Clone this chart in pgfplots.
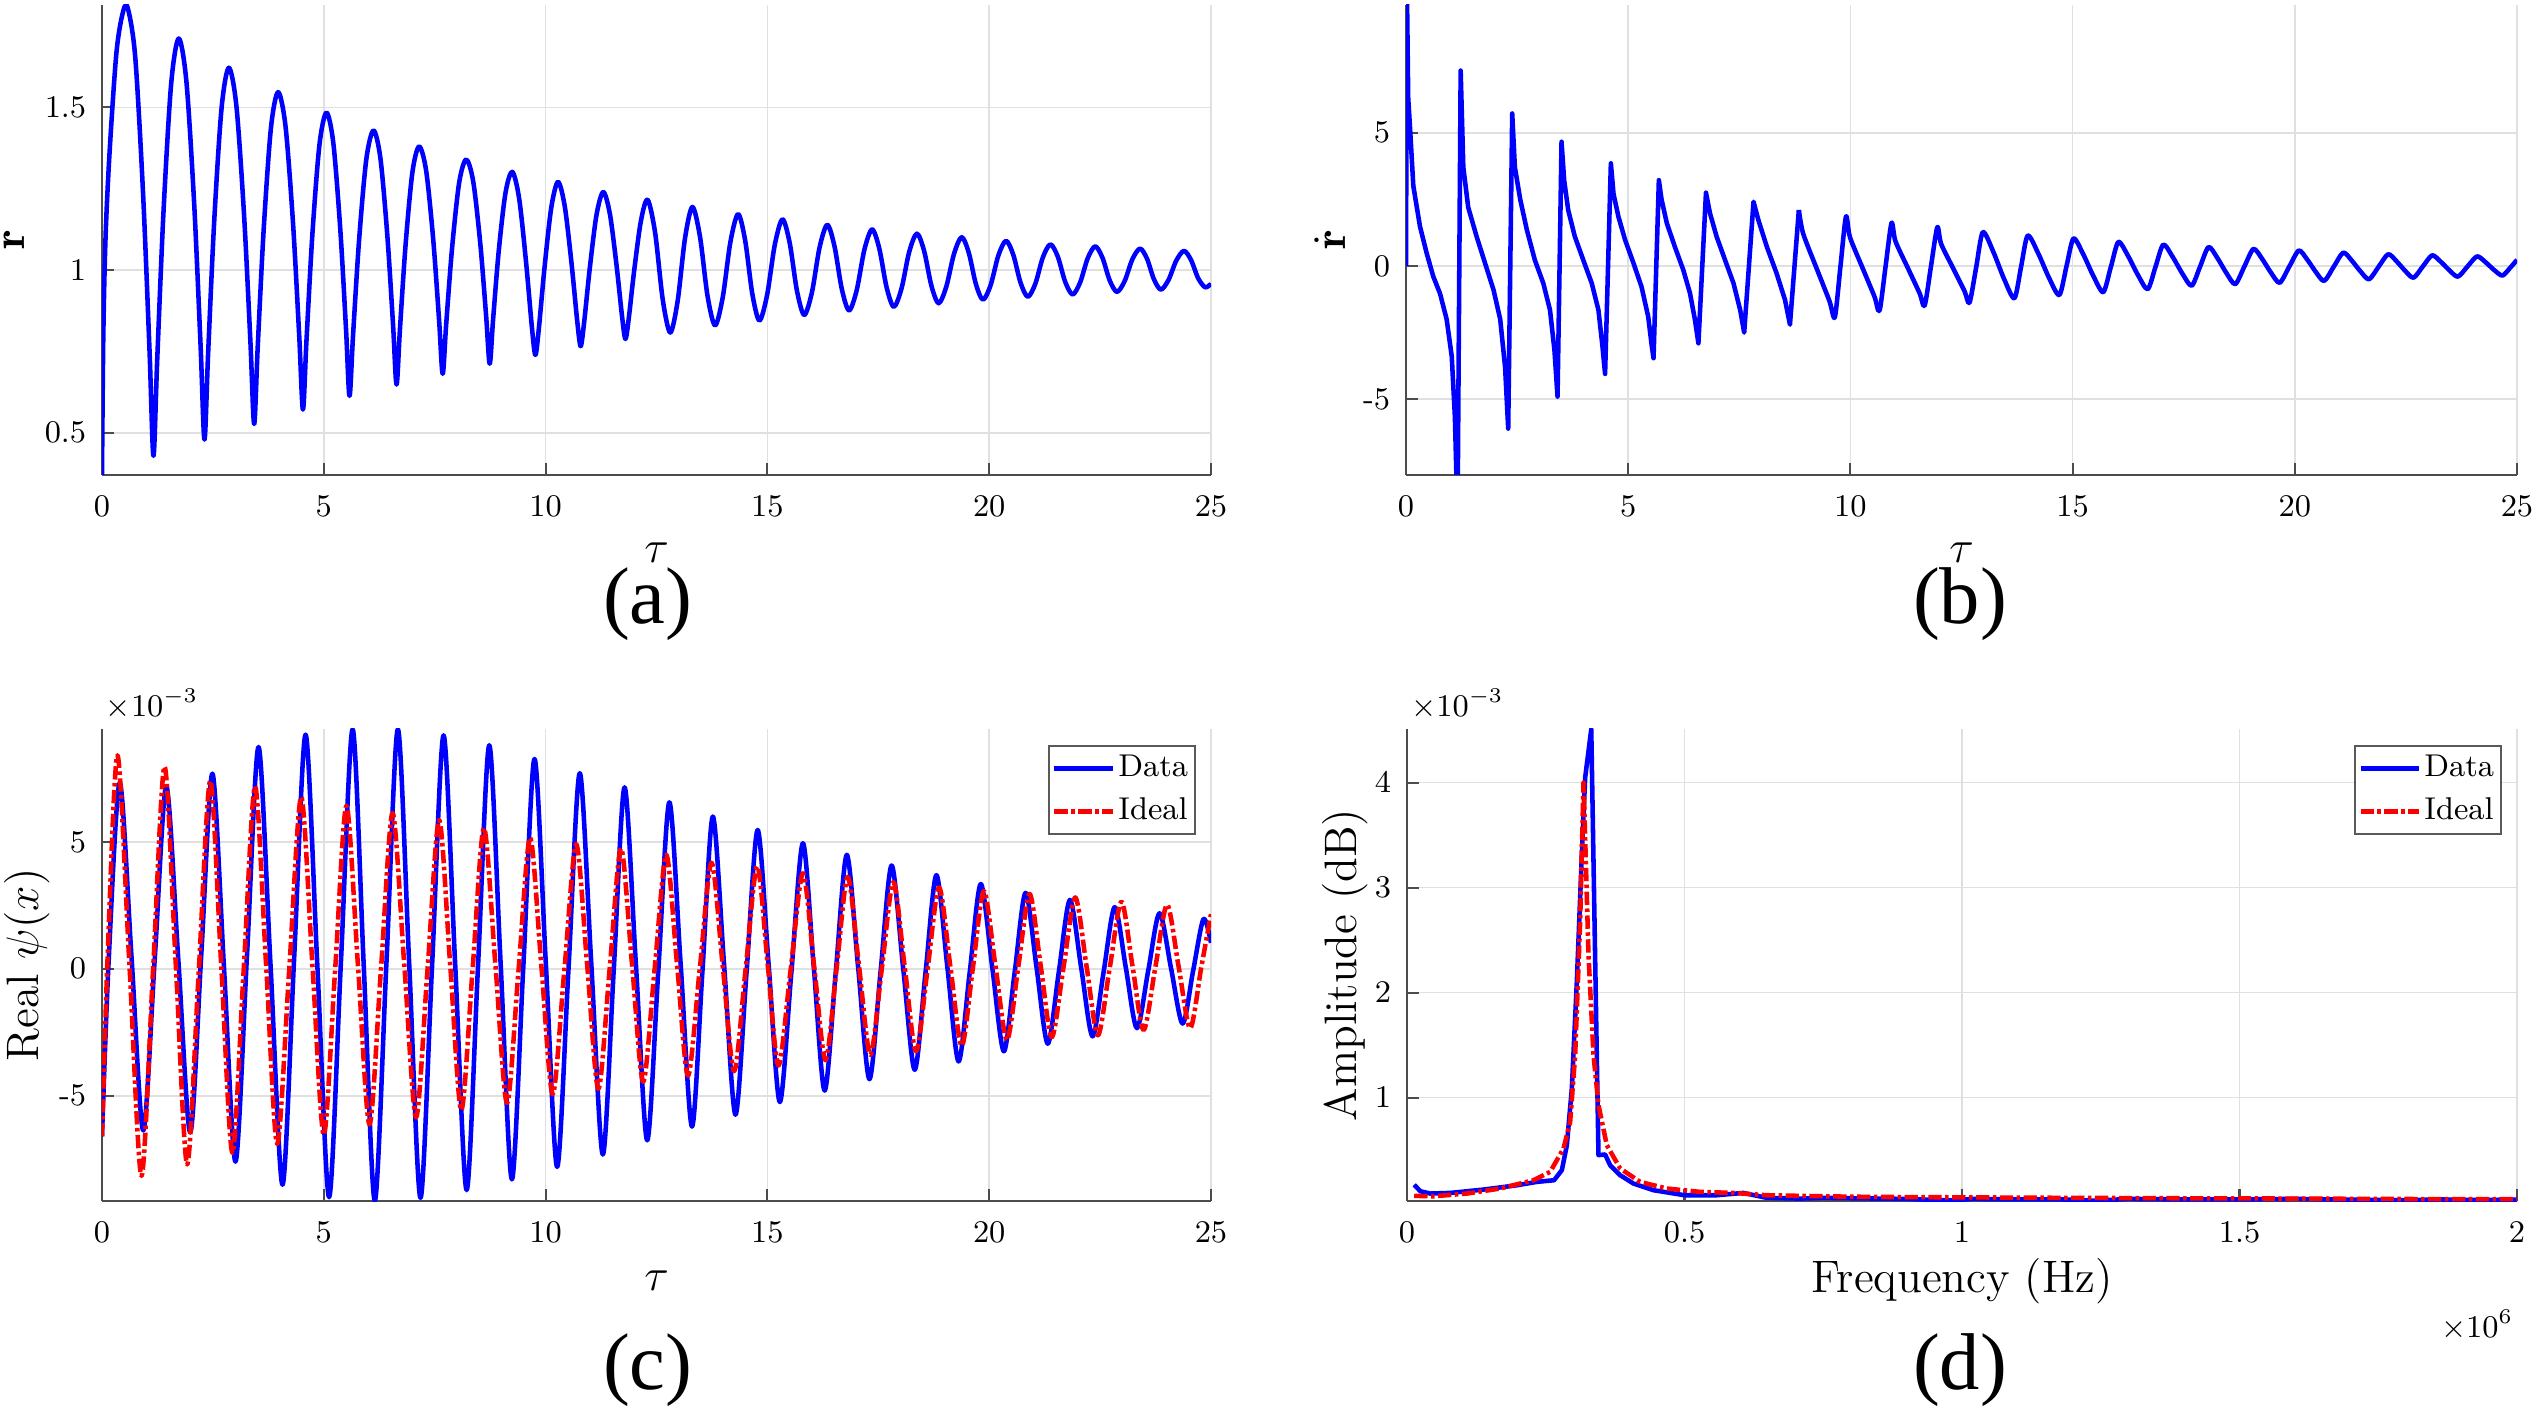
\RequirePackage{fix-cm}
\documentclass[border=0pt]{standalone}
\usepackage{fontspec}
\usepackage{pgfplots}
\pgfplotsset{compat=1.18}
\newfontfamily\tnr{Liberation Serif}

\pgfplotsset{
  panel/.style={
    scale only axis, anchor=south west,
    axis lines=left,
    axis line style={-, black!70, line width=0.6pt},
    tick style={black!70, line width=0.6pt},
    tick align=inside, major tick length=3.3pt,
    grid=major, major grid style={black!12, line width=0.5pt},
    tick label style={font=\fontsize{9}{10}\selectfont},
    xticklabel style={yshift=-2.6pt},
    yticklabel style={xshift=-1pt},
    every axis plot/.append style={line width=1.3pt, line join=round},
    legend cell align=left,
    legend image code/.code={\draw[#1, line width=1.3pt] (0pt,0pt) -- (16.6pt,0pt);},
    legend style={font=\fontsize{9}{10}\selectfont, draw=black!65, line width=0.5pt,
      at={(1,1)}, anchor=north east, xshift=-4.3pt, yshift=-4.6pt,
      inner xsep=1pt, inner ysep=1.6pt, row sep=2.6pt, nodes={inner sep=1pt}},
  },
  xlab/.style={every axis x label/.style={at={(axis description cs:0.5,#1)},
      anchor=center, inner sep=0.5pt, font=\fontsize{13}{15}\selectfont}},
  ylab/.style={every axis y label/.style={at={(axis description cs:#1,0.5)},
      anchor=center, rotate=90, inner sep=0pt, font=\fontsize{13}{15}\selectfont}},
  taux/.style={xmin=0, xmax=25, xtick={0,5,...,25}, xlabel={$\tau$}},
  ideal/.style={red, line cap=butt, dash pattern=on 3.8pt off 1pt on 1pt off 1pt},
}

\begin{document}
\begin{tikzpicture}
\path[use as bounding box] (0,0) rectangle (724.29pt,402.86pt);

% (a) r(tau)
\begin{axis}[panel, taux, name=a, at={(29.14pt,267.14pt)},
  width=316.86pt, height=134.29pt,
  ymin=0.37, ymax=1.815, ytick={0.5,1,1.5},
  xlab=-0.166, ylab=-0.0794,
  ylabel={$\mathbf{r}$}]
\addplot[blue, smooth, tension=0.5] coordinates {
(0,0.37)(0.03,0.80)(0.08,1.10)(0.17,1.36)(0.32,1.66)(0.45,1.78)(0.57,1.81)
(0.747,1.659)(0.924,1.241)(1.072,0.751)(1.16,0.429)(1.246,0.728)(1.388,1.183)(1.559,1.572)(1.73,1.712)
(1.904,1.578)(2.078,1.204)(2.223,0.766)(2.31,0.479)(2.393,0.745)(2.53,1.151)(2.695,1.497)(2.86,1.622)
(3.031,1.503)(3.202,1.171)(3.345,0.782)(3.43,0.527)(3.511,0.765)(3.646,1.127)(3.808,1.436)(3.97,1.547)
(4.138,1.441)(4.306,1.145)(4.446,0.798)(4.53,0.571)(4.61,0.784)(4.742,1.108)(4.901,1.384)(5.06,1.484)
(5.216,1.389)(5.372,1.125)(5.502,0.816)(5.58,0.613)(5.661,0.803)(5.796,1.093)(5.958,1.340)(6.12,1.429)
(6.276,1.344)(6.432,1.107)(6.562,0.830)(6.64,0.648)(6.717,0.819)(6.844,1.078)(6.997,1.300)(7.15,1.380)
(7.309,1.304)(7.468,1.092)(7.60,0.844)(7.68,0.681)(7.76,0.835)(7.892,1.068)(8.051,1.268)(8.21,1.340)
(8.369,1.272)(8.528,1.081)(8.66,0.858)(8.74,0.712)(8.817,0.849)(8.944,1.059)(9.097,1.238)(9.25,1.302)
(9.406,1.218)(9.562,1.021)(9.692,0.823)(9.77,0.739)(9.847,0.819)(9.974,1.005)(10.127,1.191)(10.28,1.271)
(10.433,1.195)(10.586,1.019)(10.714,0.842)(10.79,0.766)(10.867,0.837)(10.994,1.003)(11.147,1.169)(11.30,1.240)
(11.45,1.172)(11.60,1.014)(11.725,0.856)(11.80,0.788)(11.875,0.852)(12.00,1.002)(12.15,1.152)(12.30,1.216)
(12.47,1.114)(12.64,0.910)(12.81,0.808)(12.977,0.905)(13.143,1.098)(13.31,1.194)
(13.48,1.103)(13.65,0.921)(13.82,0.830)(13.993,0.916)(14.167,1.087)(14.34,1.172)
(14.50,1.090)(14.66,0.927)(14.82,0.845)(14.993,0.923)(15.167,1.078)(15.34,1.156)
(15.503,1.083)(15.667,0.936)(15.83,0.862)(16.003,0.931)(16.177,1.070)(16.35,1.139)
(16.513,1.073)(16.677,0.942)(16.84,0.876)(17.013,0.938)(17.187,1.063)(17.36,1.125)
(17.523,1.066)(17.687,0.947)(17.85,0.887)(18.023,0.943)(18.197,1.056)(18.37,1.112)
(18.533,1.059)(18.697,0.952)(18.86,0.898)(19.033,0.949)(19.207,1.050)(19.38,1.101)
(19.54,1.053)(19.70,0.957)(19.86,0.909)(20.033,0.954)(20.207,1.045)(20.38,1.090)
(20.543,1.047)(20.707,0.961)(20.87,0.918)(21.04,0.958)(21.21,1.039)(21.38,1.079)
(21.547,1.041)(21.713,0.964)(21.88,0.925)(22.05,0.962)(22.22,1.036)(22.39,1.073)
(22.553,1.038)(22.717,0.968)(22.88,0.933)(23.053,0.966)(23.227,1.033)(23.40,1.066)
(23.557,1.035)(23.713,0.972)(23.87,0.940)(24.043,0.970)(24.217,1.029)(24.39,1.059)
(24.55,1.031)(24.71,0.975)(24.87,0.947)(25.0,0.958)
};
\end{axis}

% (b) r dot
\begin{axis}[panel, taux, name=b, at={(401.71pt,267.14pt)},
  width=317.43pt, height=134.29pt,
  ymin=-7.84, ymax=9.79, ytick={-5,0,5}, yticklabels={\mbox{-}5,0,5},
  xlab=-0.166, ylab=-0.0684,
  ylabel={$\dot{\mathbf{r}}$}]
\addplot[blue] coordinates {
(0,0)(0.02,10.5)(0.05,6.3)(0.09,5.2)(0.165,3.0)(0.315,1.48)(0.465,0.48)(0.615,-0.40)(0.765,-1.03)
(0.915,-2.00)(1.03,-3.40)(1.10,-5.65)(1.16,-9.50)(1.23,7.33)
(1.29,3.70)(1.40,2.20)(1.59,1.10)(1.78,0.10)(1.97,-0.90)(2.12,-2.00)(2.23,-3.80)(2.30,-6.10)(2.39,5.72)
(2.45,3.70)(2.57,2.50)(2.72,1.35)(2.90,0.22)(3.09,-0.65)(3.24,-1.65)(3.34,-3.15)(3.41,-4.90)(3.50,4.66)
(3.56,3.20)(3.65,2.10)(3.80,1.10)(3.99,0.22)(4.18,-0.65)(4.33,-1.65)(4.42,-3.00)(4.48,-4.05)(4.61,3.85)
(4.67,2.70)(4.78,1.85)(4.93,0.98)(5.12,0.10)(5.30,-0.78)(5.45,-1.90)(5.53,-3.00)(5.57,-3.46)(5.69,3.22)
(5.75,2.50)(5.87,1.60)(6.05,0.72)(6.24,-0.15)(6.39,-1.02)(6.50,-2.00)(6.58,-2.90)(6.75,2.75)
(6.84,1.98)(6.99,1.10)(7.18,0.22)(7.37,-0.65)(7.52,-1.65)(7.61,-2.50)(7.82,2.41)
(7.93,1.72)(8.12,0.72)(8.34,-0.28)(8.53,-1.28)(8.64,-2.20)(8.84,2.10)
};
\addplot[blue, smooth, tension=0.45] coordinates {
(8.84,2.10)(8.937,1.216)(9.245,-0.111)(9.529,-1.317)(9.65,-1.92)(9.775,-0.035)
(9.90,1.85)(9.991,1.073)(10.278,-0.092)(10.542,-1.15)(10.655,-1.68)(10.79,-0.035)
(10.925,1.61)(11.014,0.928)(11.298,-0.095)(11.558,-1.025)(11.67,-1.49)(11.8125,-0.02)
(11.955,1.45)(12.042,0.827)(12.318,-0.107)(12.571,-0.956)(12.68,-1.38)(12.83,-0.055)
(12.98,1.27)(13.217,0.526)(13.453,-0.466)(13.69,-1.21)(13.84,-0.035)
(13.99,1.14)(14.227,0.471)(14.463,-0.421)(14.70,-1.09)(14.86,-0.03)
(15.02,1.03)(15.243,0.427)(15.467,-0.377)(15.69,-0.98)(15.86,-0.04)
(16.03,0.90)(16.25,0.369)(16.47,-0.339)(16.69,-0.87)(16.865,-0.035)
(17.04,0.80)(17.253,0.338)(17.467,-0.278)(17.68,-0.74)(17.87,-0.015)
(18.06,0.71)(18.26,0.293)(18.46,-0.263)(18.66,-0.68)(18.865,-0.02)
(19.07,0.64)(19.267,0.259)(19.463,-0.249)(19.66,-0.63)(19.875,-0.025)
(20.09,0.58)(20.28,0.238)(20.47,-0.218)(20.66,-0.56)(20.875,-0.03)
(21.09,0.50)(21.283,0.20)(21.477,-0.20)(21.67,-0.50)(21.885,-0.03)
(22.10,0.44)(22.29,0.176)(22.48,-0.176)(22.67,-0.44)(22.88,-0.02)
(23.09,0.40)(23.283,0.16)(23.477,-0.16)(23.67,-0.40)(23.885,-0.02)
(24.10,0.36)(24.29,0.144)(24.48,-0.144)(24.67,-0.36)(24.84,-0.08)(25.0,0.23)
};
\end{axis}

% (c) Real psi(x), values in units of 1e-3
\begin{axis}[panel, taux, name=c, at={(29.14pt,59.71pt)},
  width=316.86pt, height=134.86pt,
  ymin=-9.15, ymax=9.45, ytick={-5,0,5}, yticklabels={\mbox{-}5,0,5},
  xlab=-0.1684, ylab=-0.0679,
  ylabel={Real $\psi(x)$}]
\addplot[blue, smooth] coordinates {
(0,-6.6)(0.15,0.3)(0.40,7.33)(0.665,0.48)(0.93,-6.37)(1.19,0.41)(1.45,7.19)(1.72,0.37)(1.99,-6.45)
(2.24,0.62)(2.49,7.69)(2.75,0.045)(3.01,-7.60)(3.27,0.57)(3.53,8.74)(3.80,0.115)(4.07,-8.51)
(4.33,0.36)(4.59,9.23)(4.855,0.115)(5.12,-9.00)(5.385,0.22)(5.65,9.44)(5.90,0.15)(6.15,-9.14)
(6.41,0.15)(6.67,9.44)(6.925,0.205)(7.18,-9.03)(7.44,0.085)(7.70,9.20)(7.96,0.24)(8.22,-8.72)
(8.475,0.045)(8.73,8.81)(8.985,0.255)(9.24,-8.30)(9.495,-0.015)(9.75,8.27)(10.005,0.23)(10.26,-7.81)
(10.515,-0.05)(10.77,7.71)(11.03,0.195)(11.29,-7.32)(11.535,-0.085)(11.78,7.15)(12.035,0.195)(12.29,-6.76)
(12.54,-0.10)(12.79,6.56)(13.045,0.17)(13.30,-6.22)(13.535,-0.11)(13.77,6.00)(14.025,0.125)(14.28,-5.75)
(14.53,-0.14)(14.78,5.47)(15.03,0.11)(15.28,-5.25)(15.54,-0.15)(15.80,4.95)(16.045,0.075)(16.29,-4.80)
(16.54,-0.155)(16.79,4.49)(17.045,0.07)(17.30,-4.35)(17.55,-0.14)(17.80,4.07)(18.06,0.045)(18.32,-3.98)
(18.565,-0.145)(18.81,3.69)(19.06,0.02)(19.31,-3.65)(19.56,-0.155)(19.81,3.34)(20.07,0.045)(20.33,-3.25)
(20.575,-0.13)(20.82,2.99)(21.07,0.02)(21.32,-2.95)(21.57,-0.12)(21.82,2.71)(22.075,0.025)(22.33,-2.66)
(22.58,-0.115)(22.83,2.43)(23.08,0.045)(23.33,-2.34)(23.585,-0.075)(23.84,2.19)(24.10,0.015)(24.36,-2.16)
(24.595,-0.10)(24.83,1.96)(25.0,1.02)
};
\addlegendentry{Data}
\addplot[ideal, smooth] coordinates {
(0,-6.6)(0.13,0.6)(0.35,8.41)(0.62,0.125)(0.89,-8.16)(1.15,-0.095)(1.41,7.97)(1.665,0.13)(1.92,-7.71)
(2.18,-0.15)(2.44,7.41)(2.69,0.08)(2.94,-7.25)(3.195,-0.03)(3.45,7.19)(3.70,0.145)(3.95,-6.90)
(4.22,-0.065)(4.49,6.77)(4.745,0.11)(5.00,-6.55)(5.255,-0.065)(5.51,6.42)(5.77,0.145)(6.03,-6.13)
(6.29,0.005)(6.55,6.14)(6.815,0.145)(7.08,-5.85)(7.34,0.005)(7.60,5.86)(7.85,0.145)(8.10,-5.57)
(8.355,-0.01)(8.61,5.55)(8.87,0.13)(9.13,-5.29)(9.39,-0.065)(9.65,5.16)(9.905,0.11)(10.16,-4.94)
(10.425,-0.015)(10.69,4.91)(10.94,0.09)(11.19,-4.73)(11.445,0.005)(11.70,4.74)(11.95,0.145)(12.20,-4.45)
(12.46,0.02)(12.72,4.49)(12.965,0.14)(13.21,-4.21)(13.475,-0.015)(13.74,4.18)(13.995,0.075)(14.25,-4.03)
(14.51,0.005)(14.77,4.04)(15.01,0.115)(15.25,-3.81)(15.525,-0.025)(15.80,3.76)(16.055,0.08)(16.31,-3.60)
(16.56,0.01)(16.81,3.62)(17.065,0.115)(17.32,-3.39)(17.58,0.01)(17.84,3.41)(18.095,0.08)(18.35,-3.25)
(18.61,-0.025)(18.87,3.20)(19.125,0.08)(19.38,-3.04)(19.63,0.01)(19.88,3.06)(20.14,0.125)(20.40,-2.81)
(20.655,0.07)(20.91,2.95)(21.16,0.13)(21.41,-2.69)(21.675,0.06)(21.94,2.81)(22.195,0.095)(22.45,-2.62)
(22.715,0.01)(22.98,2.64)(23.23,0.115)(23.48,-2.41)(23.745,0.055)(24.01,2.52)(24.27,0.09)(24.53,-2.34)
(24.78,0.05)(25.0,2.15)
};
\addlegendentry{Ideal}
\end{axis}

% (d) spectrum, x in 1e6 Hz, y in 1e-3
\begin{axis}[panel, name=d, at={(402.0pt,59.71pt)},
  width=317.14pt, height=134.86pt,
  xmin=0, xmax=2, xtick={0,0.5,1,1.5,2},
  ymin=0.015, ymax=4.51, ytick={1,2,3,4},
  xlab=-0.1697, ylab=-0.056,
  xlabel={Frequency (Hz)}, ylabel={Amplitude (dB)}]
\addplot[blue] coordinates {
(0.013,0.17)(0.024,0.108)(0.042,0.086)(0.078,0.092)(0.138,0.124)(0.198,0.165)(0.234,0.197)
(0.265,0.213)(0.279,0.309)(0.288,0.547)(0.297,1.088)(0.306,2.106)(0.315,3.315)(0.321,4.047)
(0.332,4.508)(0.345,0.452)(0.357,0.458)(0.366,0.356)(0.384,0.261)(0.408,0.181)(0.444,0.118)
(0.50,0.07)(0.558,0.07)(0.606,0.092)(0.648,0.045)(0.708,0.038)(0.75,0.045)(0.82,0.04)
(0.90,0.035)(0.95,0.025)(0.98,0.02)(1.02,0.035)(1.10,0.03)(1.18,0.03)(1.24,0.018)(1.30,0.035)
(1.40,0.03)(1.50,0.03)(1.60,0.035)(1.70,0.028)(1.80,0.022)(1.86,0.03)(1.92,0.025)(2.00,0.028)
};
\addlegendentry{Data}
\addplot[ideal] coordinates {
(0.013,0.064)(0.048,0.06)(0.108,0.086)(0.168,0.134)(0.228,0.213)(0.258,0.293)(0.282,0.515)
(0.294,0.77)(0.303,1.406)(0.312,2.679)(0.318,4.0)(0.321,3.474)(0.327,2.361)(0.336,1.406)
(0.345,0.929)(0.36,0.547)(0.384,0.325)(0.42,0.197)(0.468,0.134)(0.528,0.102)(0.588,0.092)
(0.648,0.07)(0.708,0.064)(0.80,0.056)(0.90,0.052)(1.00,0.05)(1.10,0.047)(1.20,0.045)
(1.30,0.043)(1.40,0.041)(1.50,0.04)(1.60,0.038)(1.70,0.036)(1.80,0.034)(1.90,0.033)(2.00,0.032)
};
\addlegendentry{Ideal}
\end{axis}

\node[anchor=base west, inner sep=0, font=\fontsize{9}{10}\selectfont]
  at ([xshift=0.9pt,yshift=3.7pt]c.north west) {$\times10^{-3}$};
\node[anchor=base west, inner sep=0, font=\fontsize{9}{10}\selectfont]
  at ([xshift=1pt,yshift=3.7pt]d.north west) {$\times10^{-3}$};
\node[anchor=base east, inner sep=0, font=\fontsize{9}{10}\selectfont]
  at ([xshift=-0.9pt,yshift=-38.9pt]d.south east) {$\times10^{6}$};

\node[inner sep=0, font=\tnr\fontsize{23}{26}\selectfont] at (185.1pt,230.1pt) {(a)};
\node[inner sep=0, font=\tnr\fontsize{23}{26}\selectfont] at (560.0pt,230.1pt) {(b)};
\node[inner sep=0, font=\tnr\fontsize{23}{26}\selectfont] at (185.1pt,11.4pt) {(c)};
\node[inner sep=0, font=\tnr\fontsize{23}{26}\selectfont] at (560.0pt,11.4pt) {(d)};
\end{tikzpicture}
\end{document}
